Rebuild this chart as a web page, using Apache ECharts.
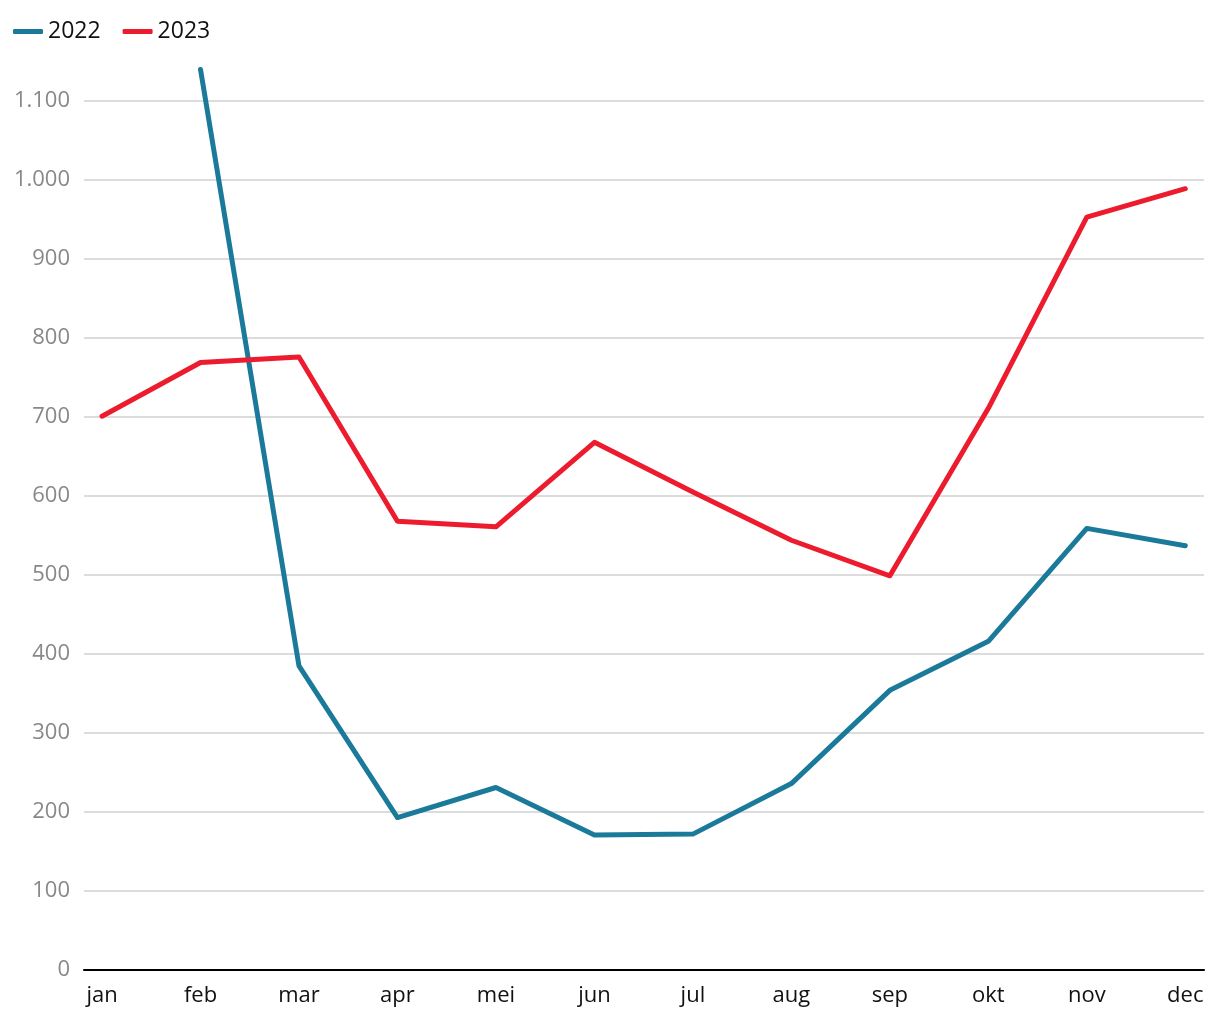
<!DOCTYPE html>
<html>
<head>
<meta charset="utf-8">
<script src="https://cdn.jsdelivr.net/npm/echarts@6/dist/echarts.min.js"></script>
<style>
  html, body { margin: 0; padding: 0; background: #fff; }
  #chart { width: 1220px; height: 1020px; }
</style>
</head>
<body>
<div id="chart"></div>
<script>
const months = ["jan", "feb", "mar", "apr", "mei", "jun", "jul", "aug", "sep", "okt", "nov", "dec"];
const values2022 = [null, 1140, 385, 193, 231, 171, 172, 236, 354, 416, 559, 537];
const values2023 = [701, 769, 776, 568, 561, 668, 605, 544, 499, 711, 953, 989];
const yTicks = [0, 100, 200, 300, 400, 500, 600, 700, 800, 900, 1000, 1100];

const toPairs = (arr) => arr.map((v, i) => [i, v]);
const fmt = (v) => String(v).replace(/\B(?=(\d{3})+(?!\d))/g, ".");

const chart = echarts.init(document.getElementById("chart"));
const font = "'Open Sans', Lato, sans-serif";

const option = {
  animation: false,
  textStyle: { fontFamily: font },
  legend: {
    left: 8,
    top: 15,
    itemWidth: 30,
    itemHeight: 5,
    itemGap: 22,
    icon: "roundRect",
    textStyle: { fontSize: 23, color: "#111", fontFamily: font },
    data: ["2022", "2023"],
  },
  grid: {
    left: 84,
    right: 16,
    top: 101,
    bottom: 50,
  },
  xAxis: {
    type: "value",
    min: -0.183,
    max: 11.19,
    axisLine: { show: true, onZero: false, lineStyle: { color: "#000", width: 2 } },
    axisTick: { show: false },
    splitLine: { show: false },
    axisLabel: {
      customValues: months.map((m, i) => i),
      formatter: (v) => months[Math.round(v)],
      fontSize: 22,
      color: "#111",
      margin: 15,
      fontFamily: font,
    },
  },
  yAxis: {
    type: "value",
    min: 0,
    max: 1100,
    interval: 100,
    axisLine: { show: false },
    axisTick: { show: false },
    splitLine: { lineStyle: { color: "#d0d0d0", width: 1.5 } },
    axisLabel: {
      customValues: yTicks,
      formatter: fmt,
      fontSize: 22,
      color: "#888",
      margin: 14,
      fontFamily: font,
    },
  },
  series: [
    {
      name: "2022",
      type: "line",
      data: toPairs(values2022),
      clip: false,
      showSymbol: false,
      color: "#1b7a9a",
      lineStyle: { width: 5, cap: "round", join: "round" },
    },
    {
      name: "2023",
      type: "line",
      data: toPairs(values2023),
      clip: false,
      showSymbol: false,
      color: "#ec1c2e",
      lineStyle: { width: 5, cap: "round", join: "round" },
    },
  ],
};

chart.setOption(option);
</script>
</body>
</html>
